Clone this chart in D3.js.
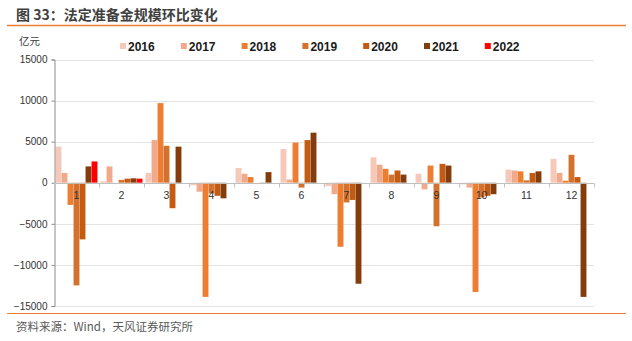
<!DOCTYPE html>
<html>
<head>
<meta charset="utf-8">
<script src="https://cdn.jsdelivr.net/npm/d3@7"></script>
<style>
  html, body { margin: 0; padding: 0; background: #fff; }
  svg { display: block; }
</style>
</head>
<body>
<svg id="chart" width="632" height="341"></svg>
<script>
// Monthly change in statutory reserves (100 million yuan), by year
const months = ["1", "2", "3", "4", "5", "6", "7", "8", "9", "10", "11", "12"];
const years = ["2016", "2017", "2018", "2019", "2020", "2021", "2022"];
const v2016 = [4400, 200, 1200, -300, 1800, 4100, -400, 3100, 1100, -200, 1600, 2900];
const v2017 = [1200, 2000, 5200, -1100, 1100, 400, -1400, 2200, -800, -600, 1500, 1200];
const v2018 = [-2700, 0, 9700, -13900, 700, 4900, -7800, 1700, 2100, -13300, 1400, 250];
const v2019 = [-12500, 350, 4500, -1300, 0, -600, -2400, 1000, -5300, -1800, 300, 3400];
const v2020 = [-6900, 500, -3100, -1600, -150, 5200, -2100, 1500, 2300, -1600, 1200, 700];
const v2021 = [2000, 550, 4400, -1900, 1300, 6100, -12300, 1000, 2100, -1400, 1400, -13900];
const v2022 = [2600, 500, null, null, null, null, null, null, null, null, null, null];
const yTicks = [-15000, -10000, -5000, 0, 5000, 10000, 15000];

const seriesValues = [v2016, v2017, v2018, v2019, v2020, v2021, v2022];
const colors = ["#F5C8B8", "#F0A98B", "#ED7D31", "#D4712C", "#C55A11", "#843C0C", "#FF0000"];

const svg = d3.select("#chart");
const cjk = "'Noto Sans CJK SC', 'Noto Sans', sans-serif";
const latin = "'Liberation Sans', Arial, sans-serif";

// Header
svg.append("text")
  .attr("x", 16).attr("y", 20)
  .attr("font-family", cjk).attr("font-weight", "bold")
  .attr("font-size", 14).attr("fill", "#404040")
  .text("图 33：法定准备金规模环比变化");
svg.append("line")
  .attr("x1", 7).attr("x2", 626).attr("y1", 25.5).attr("y2", 25.5)
  .attr("stroke", "#ED7D31").attr("stroke-width", 1.5);

// Footer
svg.append("line")
  .attr("x1", 7).attr("x2", 626).attr("y1", 313.5).attr("y2", 313.5)
  .attr("stroke", "#ED7D31").attr("stroke-width", 1.2);
svg.append("text")
  .attr("x", 16).attr("y", 331)
  .attr("font-family", cjk).attr("font-size", 11.5).attr("fill", "#595959")
  .text("资料来源：Wind，天风证券研究所");

// Scales
const x0 = d3.scaleBand().domain(months).range([54, 594]).padding(0);
const x1 = d3.scaleBand().domain(years).range([0, x0.bandwidth()])
  .paddingInner(0).paddingOuter(0.25);
const y = d3.scaleLinear().domain([-15000, 15000]).range([306, 59.5]);
const color = d3.scaleOrdinal().domain(years).range(colors);

// Unit label
svg.append("text")
  .attr("x", 19).attr("y", 45)
  .attr("font-family", cjk).attr("font-size", 10.5).attr("fill", "#404040")
  .text("亿元");

// Gridlines
svg.append("g")
  .selectAll("line")
  .data(yTicks.filter(t => t !== 0))
  .join("line")
  .attr("x1", 54).attr("x2", 594)
  .attr("y1", d => Math.round(y(d)) + 0.5).attr("y2", d => Math.round(y(d)) + 0.5)
  .attr("stroke", "#e3e3e3").attr("stroke-width", 1);

// Bars
const rows = [];
years.forEach((yr, si) => {
  months.forEach((m, mi) => {
    const v = seriesValues[si][mi];
    if (v !== null && v !== undefined) rows.push({ year: yr, month: m, value: v });
  });
});
svg.append("g")
  .selectAll("rect")
  .data(rows)
  .join("rect")
  .attr("x", d => x0(d.month) + x1(d.year))
  .attr("width", x1.bandwidth())
  .attr("y", d => y(Math.max(0, d.value)))
  .attr("height", d => Math.abs(y(d.value) - y(0)))
  .attr("fill", d => color(d.year))
  .attr("stroke", "#ffffff").attr("stroke-opacity", 0.25).attr("stroke-width", 0.5);

// Y axis
const yAxis = d3.axisLeft(y).tickValues(yTicks).tickFormat(d3.format("d"))
  .tickSize(3).tickPadding(4);
const gy = svg.append("g").attr("transform", "translate(54.5,0)").call(yAxis);
gy.select(".domain").attr("stroke", "#8c8c8c");
gy.selectAll(".tick line").attr("stroke", "#8c8c8c");
gy.selectAll(".tick text")
  .attr("font-family", latin).attr("font-size", 10).attr("fill", "#333");

// X axis along zero, with ticks at group boundaries
const zeroY = Math.round(y(0)) + 0.5;
svg.append("line")
  .attr("x1", 54).attr("x2", 594).attr("y1", zeroY).attr("y2", zeroY)
  .attr("stroke", "#bfbfbf").attr("stroke-width", 1);
svg.append("g")
  .selectAll("line")
  .data(months)
  .join("line")
  .attr("x1", d => Math.round(x0(d) + x0.bandwidth()) + 0.5)
  .attr("x2", d => Math.round(x0(d) + x0.bandwidth()) + 0.5)
  .attr("y1", zeroY).attr("y2", zeroY + 4)
  .attr("stroke", "#bfbfbf");
svg.append("g")
  .selectAll("text")
  .data(months)
  .join("text")
  .attr("x", d => x0(d) + x0.bandwidth() / 2)
  .attr("y", zeroY + 15)
  .attr("text-anchor", "middle")
  .attr("font-family", latin).attr("font-size", 10.5).attr("fill", "#333")
  .text(d => d);

// Legend
const legend = svg.append("g")
  .selectAll("g")
  .data(years)
  .join("g")
  .attr("transform", (d, i) => `translate(${120 + i * 60.8},46)`);
legend.append("rect")
  .attr("x", 0).attr("y", -3).attr("width", 6).attr("height", 6)
  .attr("fill", d => color(d));
legend.append("text")
  .attr("x", 8).attr("y", 4.5)
  .attr("font-family", latin).attr("font-weight", "bold")
  .attr("font-size", 12).attr("fill", "#1a1a1a")
  .text(d => d);
</script>
</body>
</html>
